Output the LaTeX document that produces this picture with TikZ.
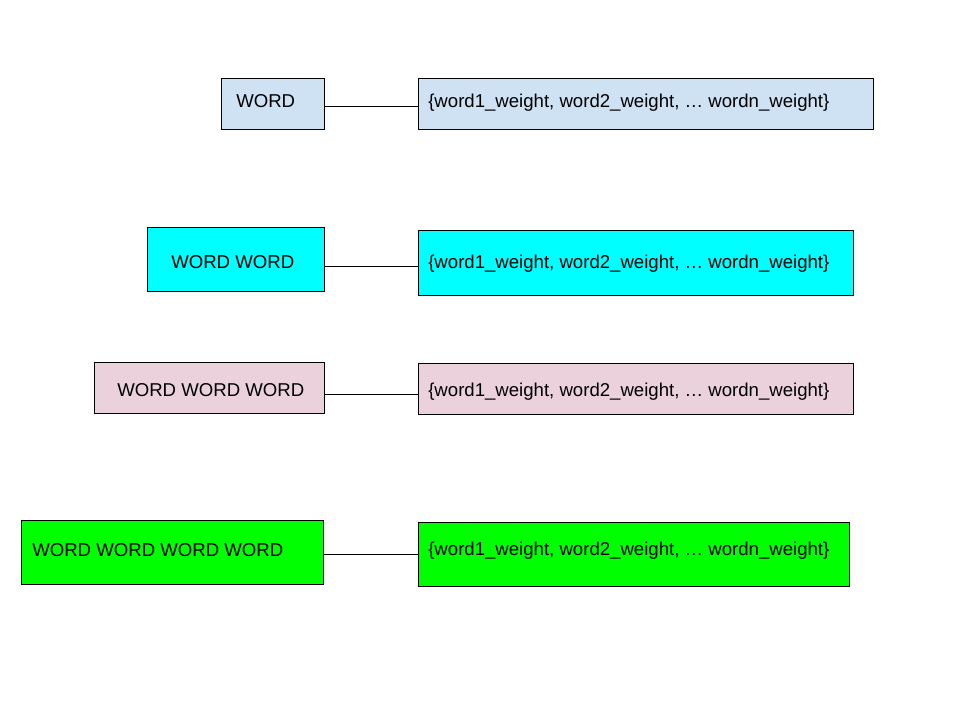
\documentclass[tikz,border=0pt]{standalone}
\usepackage{fontspec}
\setmainfont{Liberation Sans}
\usetikzlibrary{fit}
\definecolor{lblue}{HTML}{CFE2F3}
\definecolor{cyanb}{HTML}{00FFFF}
\definecolor{pinkb}{HTML}{EAD1DC}
\definecolor{greenb}{HTML}{00FF00}
\tikzset{
  box/.style={draw=black, line width=0.75pt, inner sep=0pt},
  lbl/.style={anchor=base west, inner sep=0pt, font=\fontsize{13.95pt}{16pt}\selectfont},
  conn/.style={draw=black, line width=0.75pt}
}
\begin{document}
\begin{tikzpicture}[x=0.75pt, y=-0.75pt]
\useasboundingbox (0,0) rectangle (960,720);
% row 1
\node[box, fill=lblue, fit={(221,78.5) (324,129.5)}] (L1) {};
\node[box, fill=lblue, fit={(418,78.5) (873,129.5)}] (R1) {};
\node[lbl] (tL1) at (236,108) {WORD};
\node[lbl] (tR1) at (428,108) {\{word1\_weight, word2\_weight, … wordn\_weight\}};
\draw[conn] (L1.east |- 0,106.5) -- (R1.west |- 0,106.5);
% row 2
\node[box, fill=cyanb, fit={(147,227.5) (324,291.5)}] (L2) {};
\node[box, fill=cyanb, fit={(418,230.5) (853,295.5)}] (R2) {};
\node[lbl] (tL2) at (171,268.8) {WORD WORD};
\node[lbl] (tR2) at (428,268.8) {\{word1\_weight, word2\_weight, … wordn\_weight\}};
\draw[conn] (L2.east |- 0,267) -- (R2.west |- 0,267);
% row 3
\node[box, fill=pinkb, fit={(94,362.5) (324,413.5)}] (L3) {};
\node[box, fill=pinkb, fit={(418,363.5) (853,414.5)}] (R3) {};
\node[lbl] (tL3) at (117,396.2) {WORD WORD WORD};
\node[lbl] (tR3) at (428,396.2) {\{word1\_weight, word2\_weight, … wordn\_weight\}};
\draw[conn] (L3.east |- 0,394.5) -- (R3.west |- 0,394.5);
% row 4
\node[box, fill=greenb, fit={(21,520.5) (323,584.5)}] (L4) {};
\node[box, fill=greenb, fit={(418,522.5) (849,586.5)}] (R4) {};
\node[lbl] (tL4) at (32,556.2) {WORD WORD WORD WORD};
\node[lbl] (tR4) at (428,555.8) {\{word1\_weight, word2\_weight, … wordn\_weight\}};
\draw[conn] (L4.east |- 0,554.8) -- (R4.west |- 0,554.8);
\end{tikzpicture}
\end{document}
